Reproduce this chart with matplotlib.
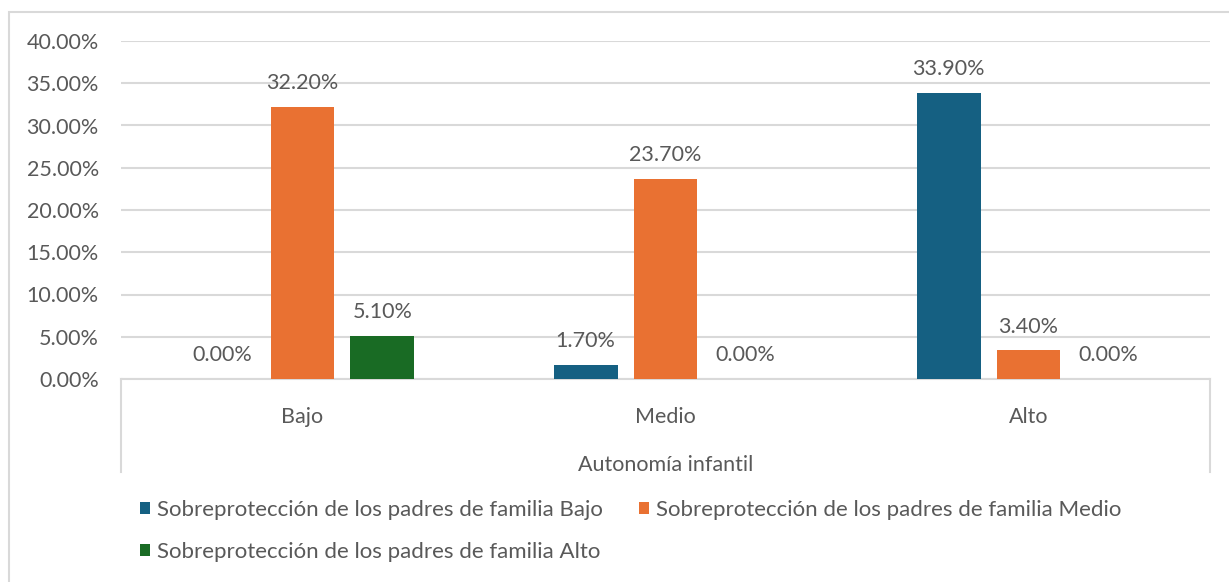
import numpy as np
import matplotlib
matplotlib.use("Agg")
import matplotlib.pyplot as plt
from matplotlib.patches import Rectangle
from matplotlib.ticker import PercentFormatter

categorias = ["Bajo", "Medio", "Alto"]
series = [
    "Sobreprotección de los padres de familia Bajo",
    "Sobreprotección de los padres de familia Medio",
    "Sobreprotección de los padres de familia Alto",
]
sobre_bajo = [0.0, 1.7, 33.9]
sobre_medio = [32.2, 23.7, 3.4]
sobre_alto = [5.1, 0.0, 0.0]
colores = ["#156082", "#E97132", "#196B24"]

plt.rcParams["font.family"] = ["Lato", "DejaVu Sans"]
texto = "#595959"
gris = "#D9D9D9"

fig = plt.figure(figsize=(12.29, 5.82), dpi=100)
ax = fig.add_axes([121 / 1229, 1 - 379 / 582, (1210 - 121) / 1229, (379 - 41) / 582])

x = np.arange(len(categorias))
ancho = 0.176
paso = 0.22
handles = []
for i, (vals, nombre) in enumerate(zip([sobre_bajo, sobre_medio, sobre_alto], series)):
    b = ax.bar(x + (i - 1) * paso, vals, ancho, color=colores[i], label=nombre, zorder=3)
    handles.append(b)
    for xi, v in zip(x + (i - 1) * paso, vals):
        ax.annotate(f"{v:.2f}%", (xi, v), xytext=(0, 17), textcoords="offset points",
                    ha="center", va="center", fontsize=15.5, color=texto)

ax.set_xlim(-0.5, 2.5)
ax.set_ylim(0, 40)
ax.set_yticks(np.arange(0, 41, 5))
ax.yaxis.set_major_formatter(PercentFormatter(decimals=2))
ax.grid(axis="y", color=gris, linewidth=1.5, zorder=0)
ax.set_xticks(x)
ax.set_xticklabels(categorias)
ax.tick_params(axis="both", length=0, labelsize=15.5, labelcolor=texto)
ax.tick_params(axis="y", pad=16)
ax.tick_params(axis="x", pad=20)
for s in ["top", "right", "left"]:
    ax.spines[s].set_visible(False)
ax.spines["bottom"].set_color(gris)
ax.spines["bottom"].set_linewidth(1.5)
ax.set_xlabel("Autonomía infantil", fontsize=15.5, color=texto, labelpad=20)

# lineas del eje de categorias
for xa in [0, 1]:
    ax.plot([xa, xa], [0, -0.275], transform=ax.transAxes, color=gris,
            linewidth=1.5, clip_on=False)

# borde del grafico
fig.patches.append(Rectangle((9 / 1229, -0.1), 1.2, 1.1 - 12 / 582, transform=fig.transFigure,
                             fill=False, edgecolor=gris, linewidth=1.5))

orden = [handles[0], handles[2], handles[1]]
fig.legend(orden, [series[0], series[2], series[1]], ncol=2, loc="upper left",
           bbox_to_anchor=(140 / 1229, 1 - 500 / 582), frameon=False, fontsize=16,
           labelcolor=texto, handlelength=0.45, handleheight=0.45, handletextpad=0.3,
           columnspacing=1.65, labelspacing=1.0, borderpad=0, borderaxespad=0)

fig.savefig("out.png", dpi=100)
